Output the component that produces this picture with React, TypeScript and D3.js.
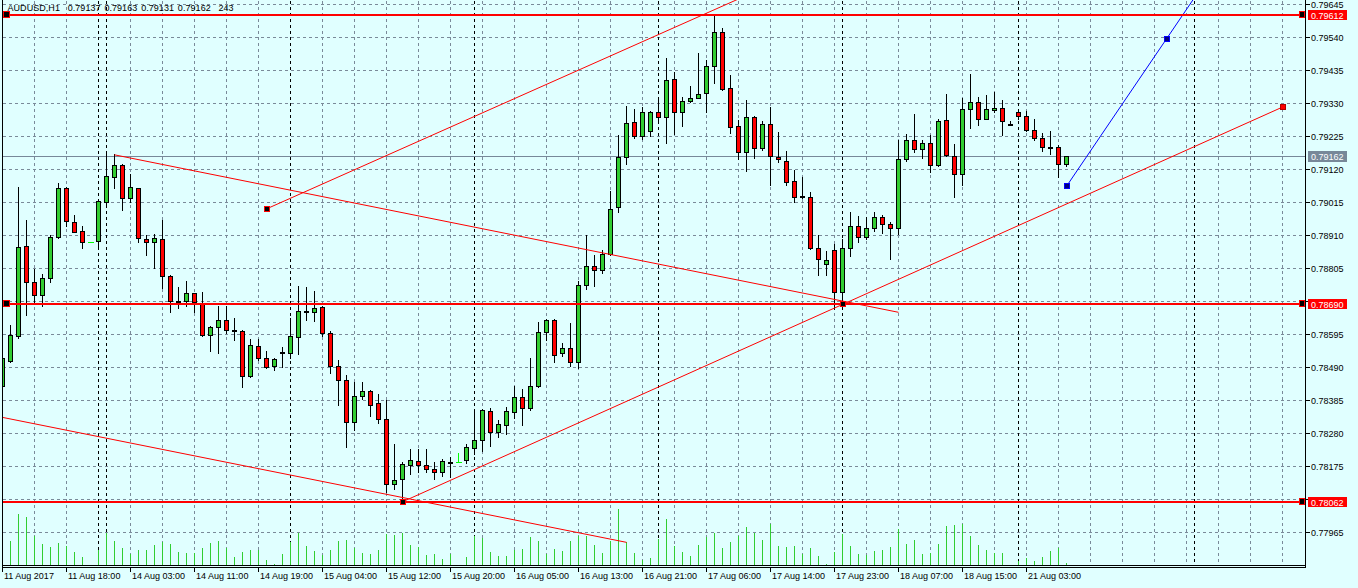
import React from "react";
import * as d3 from "d3";

// ---------- DATA (AUDUSD H1) ----------
const opens = [0.78429,0.78511,0.78591,0.78876,0.78762,0.78719,0.78773,0.78905,0.79060,0.78952,0.78923,0.78888,0.78891,0.79017,0.79097,0.79134,0.79028,0.79060,0.78899,0.78888,0.78898,0.78780,0.78702,0.78701,0.78726,0.78696,0.78593,0.78619,0.78641,0.78609,0.78605,0.78461,0.78558,0.78519,0.78494,0.78539,0.78536,0.78586,0.78669,0.78666,0.78682,0.78599,0.78494,0.78450,0.78316,0.78398,0.78413,0.78375,0.78326,0.78118,0.78133,0.78179,0.78193,0.78179,0.78166,0.78156,0.78189,0.78190,0.78196,0.78234,0.78259,0.78352,0.78283,0.78306,0.78349,0.78396,0.78360,0.78430,0.78602,0.78641,0.78536,0.78553,0.78507,0.78751,0.78811,0.78800,0.78850,0.78999,0.79159,0.79269,0.79226,0.79242,0.79302,0.79286,0.79407,0.79301,0.79336,0.79348,0.79364,0.79448,0.79558,0.79378,0.79257,0.79174,0.79286,0.79187,0.79264,0.79160,0.79148,0.79083,0.79034,0.79033,0.78869,0.78818,0.78864,0.78729,0.78869,0.78939,0.78905,0.78933,0.78968,0.78946,0.78933,0.79152,0.79214,0.79184,0.79203,0.79134,0.79278,0.79161,0.79104,0.79311,0.79334,0.79281,0.79309,0.79316,0.79263,0.79302,0.79289,0.79244,0.79220,0.79191,0.79191,0.79137];
const highs = [0.78525,0.78626,0.79065,0.78960,0.78803,0.78787,0.78910,0.79077,0.79065,0.78974,0.78939,0.78888,0.79020,0.79175,0.79169,0.79138,0.79106,0.79062,0.78910,0.78913,0.78960,0.78784,0.78746,0.78764,0.78727,0.78728,0.78622,0.78684,0.78684,0.78646,0.78609,0.78579,0.78579,0.78542,0.78521,0.78556,0.78648,0.78749,0.78747,0.78734,0.78684,0.78605,0.78513,0.78464,0.78444,0.78444,0.78419,0.78406,0.78386,0.78247,0.78190,0.78231,0.78229,0.78229,0.78190,0.78198,0.78206,0.78217,0.78247,0.78354,0.78356,0.78359,0.78323,0.78365,0.78429,0.78421,0.78521,0.78634,0.78643,0.78643,0.78567,0.78631,0.78763,0.78910,0.78847,0.78864,0.79052,0.79228,0.79321,0.79313,0.79319,0.79305,0.79345,0.79474,0.79428,0.79350,0.79385,0.79490,0.79468,0.79610,0.79570,0.79419,0.79276,0.79339,0.79290,0.79275,0.79319,0.79238,0.79177,0.79118,0.79094,0.79048,0.78910,0.78861,0.78881,0.78897,0.78985,0.78970,0.78968,0.78985,0.78976,0.78951,0.79214,0.79232,0.79296,0.79213,0.79229,0.79279,0.79359,0.79202,0.79348,0.79424,0.79350,0.79356,0.79365,0.79342,0.79273,0.79307,0.79304,0.79279,0.79236,0.79242,0.79198,0.79163];
const lows = [0.78421,0.78506,0.78582,0.78657,0.78697,0.78686,0.78761,0.78901,0.78939,0.78919,0.78869,0.78888,0.78876,0.79010,0.79060,0.78991,0.79016,0.78888,0.78846,0.78806,0.78741,0.78665,0.78680,0.78686,0.78666,0.78591,0.78541,0.78535,0.78599,0.78576,0.78427,0.78459,0.78513,0.78488,0.78482,0.78490,0.78519,0.78533,0.78640,0.78636,0.78590,0.78473,0.78369,0.78236,0.78289,0.78389,0.78335,0.78314,0.78092,0.78104,0.78062,0.78150,0.78156,0.78156,0.78133,0.78143,0.78141,0.78190,0.78187,0.78215,0.78225,0.78240,0.78269,0.78277,0.78328,0.78306,0.78355,0.78428,0.78576,0.78507,0.78525,0.78494,0.78487,0.78738,0.78749,0.78789,0.78848,0.78985,0.79138,0.79221,0.79217,0.79227,0.79267,0.79204,0.79233,0.79259,0.79333,0.79346,0.79302,0.79393,0.79373,0.79236,0.79152,0.79113,0.79155,0.79181,0.79071,0.79143,0.79071,0.79016,0.79028,0.78867,0.78783,0.78783,0.78674,0.78690,0.78844,0.78888,0.78899,0.78924,0.78916,0.78833,0.78913,0.79145,0.79175,0.79157,0.79112,0.79129,0.79162,0.79033,0.79069,0.79253,0.79261,0.79279,0.79302,0.79228,0.79260,0.79281,0.79243,0.79214,0.79177,0.79168,0.79094,0.79131];
const closes = [0.78519,0.78593,0.78872,0.78762,0.78719,0.78774,0.78905,0.79060,0.78955,0.78921,0.78888,0.78888,0.79018,0.79098,0.79134,0.79028,0.79063,0.78901,0.78888,0.78902,0.78779,0.78700,0.78701,0.78726,0.78699,0.78593,0.78618,0.78641,0.78609,0.78608,0.78461,0.78561,0.78519,0.78490,0.78517,0.78540,0.78588,0.78669,0.78670,0.78679,0.78599,0.78494,0.78450,0.78316,0.78399,0.78415,0.78369,0.78327,0.78119,0.78132,0.78181,0.78195,0.78179,0.78166,0.78156,0.78193,0.78190,0.78190,0.78237,0.78260,0.78354,0.78283,0.78308,0.78350,0.78396,0.78360,0.78430,0.78602,0.78641,0.78528,0.78553,0.78507,0.78751,0.78811,0.78800,0.78850,0.78993,0.79160,0.79267,0.79226,0.79302,0.79302,0.79286,0.79403,0.79301,0.79336,0.79348,0.79361,0.79448,0.79558,0.79377,0.79256,0.79174,0.79286,0.79187,0.79264,0.79161,0.79152,0.79079,0.79033,0.79033,0.78869,0.78834,0.78832,0.78729,0.78869,0.78939,0.78903,0.78933,0.78968,0.78945,0.78933,0.79152,0.79214,0.79184,0.79204,0.79134,0.79274,0.79164,0.79104,0.79311,0.79334,0.79281,0.79311,0.79316,0.79273,0.79262,0.79288,0.79244,0.79218,0.79191,0.79190,0.79137,0.79162];
const volumes = [3000,2880,6120,5760,3480,2520,2160,2640,2280,1560,960,60,1800,3840,2880,2040,1320,1800,1800,2400,2760,2520,1560,1440,1440,2040,2640,2880,2040,960,1560,1800,1800,600,120,1320,2760,3840,2280,1680,1200,1800,2880,3000,2040,1440,1320,1800,3720,3600,3840,2400,2160,1200,1320,720,1320,60,960,3480,3240,1560,1080,1080,1860,1920,3360,2880,1320,1920,1680,2880,3480,3540,2400,1440,2880,6720,2710,1440,600,840,3120,5520,2280,1620,1080,2400,3360,3840,2040,2760,3480,4560,3840,3000,4920,2280,2160,2280,1320,2040,1080,120,1560,3720,2280,1320,1200,1680,1800,2160,4320,2520,3000,1320,1440,2520,4680,4800,4920,3480,2400,1800,1440,1440,60,480,840,540,960,1680,2040,243];

const timeLabels = ["11 Aug 2017","11 Aug 18:00","14 Aug 03:00","14 Aug 11:00","14 Aug 19:00","15 Aug 04:00","15 Aug 12:00","15 Aug 20:00","16 Aug 05:00","16 Aug 13:00","16 Aug 21:00","17 Aug 06:00","17 Aug 14:00","17 Aug 23:00","18 Aug 07:00","18 Aug 15:00","21 Aug 03:00"];
const timeLabelBars = [0,8,16,24,32,40,48,56,64,72,80,88,96,104,112,120,128];
const priceTicks = [0.79645,0.79540,0.79435,0.79330,0.79225,0.79120,0.79015,0.78910,0.78805,0.78700,0.78595,0.78490,0.78385,0.78280,0.78175,0.78070,0.77965];
const daySeparators = [12,13,36,59,82,105,127,149];
const hLevels = [0.79612,0.78690,0.78062];
const currentPrice = 0.79162;
// trend lines: [bar, price] anchor pairs
const trendA = [[33,0.78994],[89,0.79628]];
const trendB = [[14,0.79166],[112,0.78665]];
const trendC = [[-4,0.78351],[78,0.77933]];
const trendD = [[50,0.78062],[105,0.78690],[160,0.79318]];
const trendE = [[133,0.79066],[145.5,0.79535]];

const W = 1358, H = 588;
const L = 2, R = 1305, B = 565;
const BG = "#E0FFFF";
const GRID = "#7A8A99";
const BULL = "#32CD32";
const BEAR = "#FF0000";
const FONT = "'Liberation Sans', Arial, sans-serif";

export default function App() {
  const x = d3.scaleLinear().domain([0, 1]).range([2.5, 10.5]);
  const y = d3.scaleLinear().domain([0.77965, 0.79645]).range([532.3, 4.3]);
  const v = d3.scaleLinear().domain([0, 6000]).range([B, B - 50]);
  const ry = (p: number) => Math.round(y(p)) + 0.5;

  const gridBars = d3.range(4, 163, 4);

  const ray = (pts: number[][], color: string, key: string) => {
    const [a, b] = pts;
    const x1 = x(a[0]), y1 = y(a[1]), x2 = x(b[0]), y2 = y(b[1]);
    const t = 5;
    const x3 = x1 + (x2 - x1) * t, y3 = y1 + (y2 - y1) * t;
    return <line key={key} x1={x1} y1={y1} x2={x3} y2={y3} stroke={color} strokeWidth={1} />;
  };
  const seg = (pts: number[][], color: string, key: string) => {
    const line = d3.line<number[]>().x(d => x(d[0])).y(d => y(d[1]));
    return <path key={key} d={line(pts) || ""} fill="none" stroke={color} strokeWidth={1} />;
  };
  const marker = (bx: number, p: number, fill: string, stroke: string, key: string) => (
    <rect key={key} x={Math.round(x(bx)) - 2.5} y={Math.round(y(p)) - 2.5} width={5} height={5} fill={fill} stroke={stroke} strokeWidth={1} />
  );

  return (
    <svg width={W} height={H} style={{ position: "absolute", left: 0, top: 0, display: "block" }} shapeRendering="crispEdges">
      <defs>
        <clipPath id="plot"><rect x={L + 1} y={0} width={R - L - 1} height={B} /></clipPath>
      </defs>
      <rect x={0} y={0} width={W} height={H} fill={BG} />

      {/* grid */}
      <g stroke={GRID} strokeWidth={1} strokeDasharray="3,3">
        {priceTicks.map((p, k) => (
          <line key={"hg" + k} x1={L + 1} x2={R} y1={ry(p)} y2={ry(p)} />
        ))}
        {gridBars.map(b => (
          <line key={"vg" + b} x1={x(b)} x2={x(b)} y1={1} y2={B} />
        ))}
      </g>
      <g stroke="#000" strokeWidth={1} strokeDasharray="3,3">
        {daySeparators.map(b => (
          <line key={"sep" + b} x1={x(b)} x2={x(b)} y1={1} y2={B} />
        ))}
      </g>

      <g clipPath="url(#plot)">
        {/* current price line */}
        <line x1={L} x2={R} y1={ry(currentPrice)} y2={ry(currentPrice)} stroke="#778899" />

        {/* volumes */}
        {volumes.map((vol, i) => (
          <line key={"v" + i} x1={x(i)} x2={x(i)} y1={B} y2={Math.round(v(vol))} stroke={BULL} strokeWidth={1} />
        ))}

        {/* candles */}
        {opens.map((o, i) => {
          const c = closes[i];
          const cx = x(i);
          const yh = Math.round(y(highs[i]));
          const yl = Math.round(y(lows[i]));
          if (o === c) {
            const yc = ry(c);
            return (
              <g key={"c" + i} stroke="#00FF00">
                {yl > yh && <line x1={cx} x2={cx} y1={yh} y2={yl + 1} />}
                <line x1={cx - 3} x2={cx + 3} y1={yc} y2={yc} />
              </g>
            );
          }
          const top = Math.round(y(Math.max(o, c)));
          const bot = Math.round(y(Math.min(o, c)));
          const fill = c > o ? BULL : BEAR;
          return (
            <g key={"c" + i}>
              <line x1={cx} x2={cx} y1={yh} y2={yl + 1} stroke="#000" />
              {bot - top >= 1 ? (
                <rect x={cx - 2} y={top + 0.5} width={4} height={bot - top} fill={fill} stroke="#000" />
              ) : (
                <line x1={cx - 2.5} x2={cx + 2.5} y1={top + 0.5} y2={top + 0.5} stroke="#000" strokeWidth={2} />
              )}
            </g>
          );
        })}

        {/* trend lines */}
        <g shapeRendering="auto">
          {ray(trendA, BEAR, "ta")}
          {seg(trendB, BEAR, "tb")}
          {seg(trendC, BEAR, "tc")}
          {seg(trendD, BEAR, "td")}
          {ray(trendE, "#0000FF", "te")}
        </g>

        {/* horizontal levels */}
        {hLevels.map((p, k) => (
          <line key={"hl" + k} x1={L} x2={R} y1={Math.round(y(p))} y2={Math.round(y(p))} stroke={BEAR} strokeWidth={2} />
        ))}

        {/* anchor markers */}
        {marker(33, trendA[0][1], "#000", BEAR, "m1")}
        {marker(50, trendD[0][1], "#000", BEAR, "m2")}
        {marker(105, trendD[1][1], "#000", BEAR, "m3")}
        {marker(160, trendD[2][1], BEAR, "#B00000", "m4")}
        {marker(133, trendE[0][1], "#000080", "#0000FF", "m5")}
        {marker(145.5, trendE[1][1], "#000080", "#0000FF", "m6")}
        {[hLevels[0], hLevels[1]].map((p, k) => (
          <rect key={"lm" + k} x={3.5} y={Math.round(y(p)) - 3.5} width={6} height={6} fill="#000" stroke={BEAR} />
        ))}
        {hLevels.map((p, k) => (
          <rect key={"rm" + k} x={1299.5} y={Math.round(y(p)) - 3.5} width={5} height={6} fill="#000" stroke={BEAR} />
        ))}
      </g>

      {/* frame */}
      <g stroke="#000" strokeWidth={1}>
        <line x1={L + 0.5} x2={L + 0.5} y1={0} y2={B + 3} />
        <line x1={R + 0.5} x2={R + 0.5} y1={0} y2={B + 3} />
        <line x1={L} x2={R + 1} y1={B + 0.5} y2={B + 0.5} />
        <line x1={L} x2={R + 1} y1={B + 2.5} y2={B + 2.5} />
      </g>

      {/* price axis */}
      <g fontFamily={FONT} fontSize={9} fill="#000">
        {priceTicks.map((p, k) => (
          <g key={"pt" + k}>
            <line x1={R + 1} x2={R + 5} y1={ry(p)} y2={ry(p)} stroke="#000" />
            <text x={R + 6} y={ry(p) + 3.5}>{p.toFixed(5)}</text>
          </g>
        ))}
      </g>
      {hLevels.map((p, k) => (
        <g key={"hlab" + k}>
          <rect x={R + 3} y={Math.round(y(p)) - 5} width={39} height={10} fill={BEAR} />
          <text x={R + 6} y={Math.round(y(p)) + 3.5} fontFamily={FONT} fontSize={9} fill="#fff">{p.toFixed(5)}</text>
        </g>
      ))}
      <rect x={R + 3} y={Math.round(y(currentPrice)) - 5} width={39} height={11} fill="#778899" />
      <text x={R + 6} y={Math.round(y(currentPrice)) + 4} fontFamily={FONT} fontSize={9} fill="#fff">{currentPrice.toFixed(5)}</text>

      {/* time axis */}
      <g fontFamily={FONT} fontSize={9} fill="#000">
        {timeLabels.map((t, k) => (
          <g key={"tl" + k}>
            <line x1={x(timeLabelBars[k])} x2={x(timeLabelBars[k])} y1={B + 3} y2={B + 7} stroke="#000" />
            <text x={x(timeLabelBars[k]) + 1.5} y={579}>{t}</text>
          </g>
        ))}
      </g>

      {/* header */}
      <text x={7.5} y={11} fontFamily={FONT} fontSize={9} fill="#000" style={{ whiteSpace: "pre", wordSpacing: "1.3px", letterSpacing: "0.05px" }}>
        {"AUDUSD,H1  0.79137 0.79163 0.79131 0.79162  243"}
      </text>
    </svg>
  );
}
